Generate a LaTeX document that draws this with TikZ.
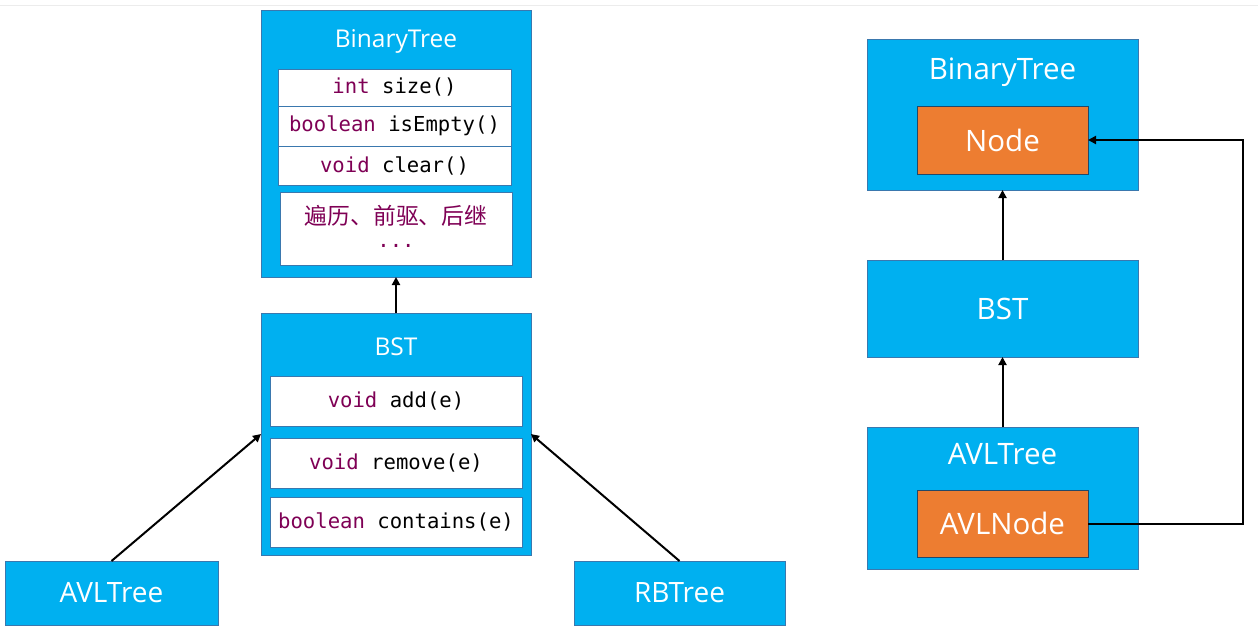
\documentclass[tikz,border=0pt]{standalone}
\usepackage{fontspec}
\setmainfont{Open Sans}
\newfontfamily\cjk{Noto Sans CJK SC}
\newfontfamily\monof{DejaVu Sans Mono}
\usetikzlibrary{arrows.meta}
\definecolor{bluefill}{HTML}{00B0F0}
\definecolor{boxedge}{HTML}{3A78AE}
\definecolor{orangefill}{HTML}{ED7D31}
\definecolor{kw}{HTML}{7F0055}
\definecolor{topline}{HTML}{ECECEC}
\newcommand{\kwd}[1]{\textcolor{kw}{#1}}
\begin{document}
\begin{tikzpicture}[x=1pt,y=-1pt,
  bluebox/.style={draw=boxedge, line width=0.8pt, fill=bluefill, inner sep=0pt, outer sep=0pt},
  orangebox/.style={draw=boxedge!60!black, line width=0.8pt, fill=orangefill, inner sep=0pt, outer sep=0pt, text=white, font=\fontsize{29.5}{33}\selectfont},
  rowbox/.style={draw=boxedge, line width=0.8pt, fill=white, inner sep=0pt, outer sep=0pt, font=\monof\fontsize{20.6}{24}\selectfont},
  smalltitle/.style={text=white, inner sep=0pt, font=\fontsize{24.5}{28}\selectfont},
  bigtitle/.style={text=white, inner sep=0pt, font=\fontsize{29.5}{33}\selectfont},
  bottomtitle/.style={text=white, inner sep=0pt, font=\fontsize{28}{32}\selectfont},
  conn/.style={line width=2pt, -{Triangle[length=8pt,width=8pt]}}
]
\useasboundingbox (0,0) rectangle (1258,633);
\draw[topline, line width=1pt] (0,5) -- (1258,5);

% ---- left: BinaryTree
\node[bluebox, minimum width=270pt, minimum height=267pt] (bt) at (396,143.5) {};
\node[smalltitle] (btt) at (396,41) {BinaryTree};
\node[rowbox, minimum width=233pt, minimum height=37pt] (r1) at (394.5,87.5) {\kwd{int} size()};
\node[rowbox, minimum width=233pt, minimum height=40pt] (r2) at (394.5,126) {\kwd{boolean} isEmpty()};
\node[rowbox, minimum width=233pt, minimum height=39pt] (r3) at (394.5,165.5) {\kwd{void} clear()};
\node[rowbox, minimum width=232pt, minimum height=73pt] (r4) at (396,228.5) {};
\node[text=kw, inner sep=0pt, font=\cjk\fontsize{22.8}{26}\selectfont] (r4a) at (396,216) {遍历、前驱、后继};
\node[text=kw, inner sep=0pt, font=\monof\fontsize{20.6}{24}\selectfont] (r4b) at (396,246) {...};

% ---- left: BST
\node[bluebox, minimum width=270pt, minimum height=242pt] (bst) at (396,434) {};
\node[smalltitle] (bstt) at (396,347) {BST};
\node[rowbox, minimum width=252pt, minimum height=50pt] (s1) at (396,401) {\kwd{void} add(e)};
\node[rowbox, minimum width=252pt, minimum height=50pt] (s2) at (396,463) {\kwd{void} remove(e)};
\node[rowbox, minimum width=252pt, minimum height=50pt] (s3) at (396,522) {\kwd{boolean} contains(e)};

% ---- left: subclasses
\node[bluebox, minimum width=213pt, minimum height=64pt, bottomtitle] (avl) at (111.5,593) {AVLTree};
\node[bluebox, minimum width=211pt, minimum height=64pt, bottomtitle] (rb) at (679.5,593) {RBTree};

\draw[conn] (bst.north) -- (bt.south);
\draw[conn] (avl.north) -- (bst.west);
\draw[conn] (rb.north) -- (bst.east);

% ---- right side
\node[bluebox, minimum width=271pt, minimum height=151pt] (rbt) at (1002.5,114.5) {};
\node[bigtitle] (rbtt) at (1002.5,72) {BinaryTree};
\node[orangebox, minimum width=171pt, minimum height=68pt] (nd) at (1002.5,140) {Node};

\node[bluebox, minimum width=271pt, minimum height=97pt, bigtitle] (rbst) at (1002.5,308.5) {BST};

\node[bluebox, minimum width=271pt, minimum height=142pt] (ravl) at (1002.5,498) {};
\node[bigtitle] (ravlt) at (1002.5,454) {AVLTree};
\node[orangebox, minimum width=171pt, minimum height=67pt] (avn) at (1002.5,523.5) {AVLNode};

\draw[conn] (rbst.north) -- (rbt.south);
\draw[conn] (ravl.north) -- (rbst.south);
\draw[conn] (avn.east) -- (1243,523.5) |- (nd.east);
\end{tikzpicture}
\end{document}
